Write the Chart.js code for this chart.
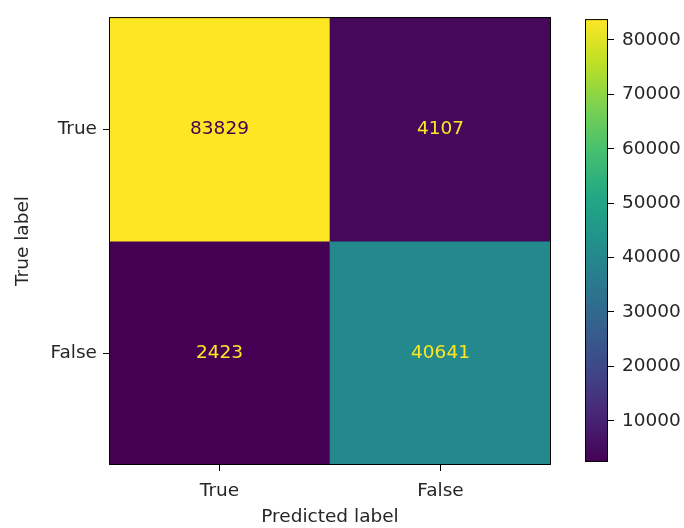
<!DOCTYPE html>
<html>
<head>
<meta charset="utf-8">
<script src="https://cdn.jsdelivr.net/npm/chart.js@4.4.0/dist/chart.umd.min.js"></script>
<style>
  body { margin: 0; background: #fff; }
  #wrap { position: relative; width: 684px; height: 528px; }
  #matrix { position: absolute; left: 0; top: 0; }
  #colorbar { position: absolute; left: 560px; top: 0; }
</style>
</head>
<body>
<div id="wrap">
  <canvas id="matrix" width="684" height="528"></canvas>
  <canvas id="colorbar" width="124" height="528"></canvas>
</div>
<script>
// confusion matrix values
const predictedLabels = ["True", "False"];
const trueLabels = ["True", "False"];
const rowTrue = [83829, 4107];
const rowFalse = [2423, 40641];
const colorbarTicks = [10000, 20000, 30000, 40000, 50000, 60000, 70000, 80000];

const rows = [rowTrue, rowFalse];
const vmin = Math.min(...rowTrue, ...rowFalse);
const vmax = Math.max(...rowTrue, ...rowFalse);

// viridis, sampled every 0.1
const viridis = ["#440154", "#482475", "#414487", "#355f8d", "#2a788e", "#21918c",
                 "#22a884", "#44bf70", "#7ad151", "#bddf26", "#fde725"];

function hexToRgb(h) {
  return [parseInt(h.slice(1, 3), 16), parseInt(h.slice(3, 5), 16), parseInt(h.slice(5, 7), 16)];
}

function viridisAt(t) {
  t = Math.max(0, Math.min(1, t));
  const pos = t * (viridis.length - 1);
  const i = Math.min(Math.floor(pos), viridis.length - 2);
  const f = pos - i;
  const a = hexToRgb(viridis[i]), b = hexToRgb(viridis[i + 1]);
  const c = a.map((v, k) => Math.round(v + (b[k] - v) * f));
  return `rgb(${c[0]}, ${c[1]}, ${c[2]})`;
}

function colorFor(v) {
  return viridisAt((v - vmin) / (vmax - vmin));
}

const FONT = { family: "'DejaVu Sans', sans-serif", size: 18.5 };
const TEXT = "#262626";

// cell numbers + frame
const cellText = {
  id: "cellText",
  afterDatasetsDraw(chart) {
    const { ctx, chartArea, scales } = chart;
    ctx.save();
    ctx.font = `${FONT.size}px ${FONT.family}`;
    ctx.textAlign = "center";
    ctx.textBaseline = "middle";
    const mid = (vmin + vmax) / 2;
    rows.forEach((row, r) => {
      row.forEach((v, c) => {
        const x = scales.x.getPixelForValue(c);
        const y = scales.y.getPixelForValue(r + 0.5);
        ctx.fillStyle = v < mid ? viridis[viridis.length - 1] : viridis[0];
        ctx.fillText(String(v), x, y);
      });
    });
    ctx.strokeStyle = "#000";
    ctx.lineWidth = 1;
    ctx.strokeRect(chartArea.left + 0.5, chartArea.top + 0.5,
                   chartArea.right - chartArea.left - 1, chartArea.bottom - chartArea.top - 1);
    ctx.restore();
  }
};

const frame = {
  id: "frame",
  afterDatasetsDraw(chart) {
    const { ctx, chartArea } = chart;
    ctx.save();
    ctx.strokeStyle = "#000";
    ctx.lineWidth = 1;
    ctx.strokeRect(chartArea.left + 0.5, chartArea.top + 0.5,
                   chartArea.right - chartArea.left - 1, chartArea.bottom - chartArea.top - 1);
    ctx.restore();
  }
};

new Chart(document.getElementById("matrix"), {
  type: "bar",
  data: {
    labels: predictedLabels,
    datasets: trueLabels.map((lab, r) => ({
      label: lab,
      data: rows[r].map(() => [r, r + 1]),
      backgroundColor: rows[r].map(colorFor),
      borderWidth: 0,
      grouped: false,
      barPercentage: 1,
      categoryPercentage: 1
    }))
  },
  options: {
    responsive: false,
    animation: false,
    layout: { padding: { left: 0, right: 133, top: 13, bottom: 0 } },
    plugins: { legend: { display: false }, tooltip: { enabled: false } },
    scales: {
      x: {
        grid: { display: true, drawOnChartArea: false, drawTicks: true, tickLength: 6, color: "#000", offset: false },
        border: { display: false },
        ticks: { font: FONT, color: TEXT, padding: 9, maxRotation: 0 },
        title: { display: true, text: "Predicted label", font: FONT, color: TEXT, padding: { top: 0, bottom: 0 } },
        afterFit: s => { s.height = 63; }
      },
      y: {
        type: "linear",
        reverse: true,
        min: 0,
        max: 2,
        grid: { display: true, drawOnChartArea: false, drawTicks: true, tickLength: 6, color: "#000" },
        border: { display: false },
        afterBuildTicks: s => { s.ticks = trueLabels.map((_, i) => ({ value: i + 0.5 })); },
        ticks: { font: FONT, color: TEXT, padding: 6, callback: v => trueLabels[Math.floor(v)] },
        title: { display: true, text: "True label", font: FONT, color: TEXT, padding: { top: 12, bottom: 0 } },
        afterFit: s => { s.width = 109; }
      }
    }
  },
  plugins: [cellText]
});

new Chart(document.getElementById("colorbar"), {
  type: "bar",
  data: {
    labels: ["scale"],
    datasets: [{
      data: [[vmin, vmax]],
      backgroundColor: ctx => {
        const ca = ctx.chart.chartArea;
        if (!ca) return null;
        const g = ctx.chart.ctx.createLinearGradient(0, ca.bottom, 0, ca.top);
        viridis.forEach((c, i) => g.addColorStop(i / (viridis.length - 1), c));
        return g;
      },
      borderWidth: 0,
      barPercentage: 1,
      categoryPercentage: 1
    }]
  },
  options: {
    responsive: false,
    animation: false,
    layout: { padding: { left: 25, right: 0, top: 13, bottom: 66 } },
    plugins: { legend: { display: false }, tooltip: { enabled: false } },
    scales: {
      x: { display: false },
      y: {
        position: "right",
        min: vmin,
        max: vmax,
        grid: { display: true, drawOnChartArea: false, drawTicks: true, tickLength: 6, color: "#000" },
        border: { display: false },
        afterBuildTicks: s => { s.ticks = colorbarTicks.map(v => ({ value: v })); },
        ticks: { font: FONT, color: TEXT, padding: 8, callback: v => String(v) },
        afterFit: s => { s.width = 76; }
      }
    }
  },
  plugins: [frame]
});
</script>
</body>
</html>
